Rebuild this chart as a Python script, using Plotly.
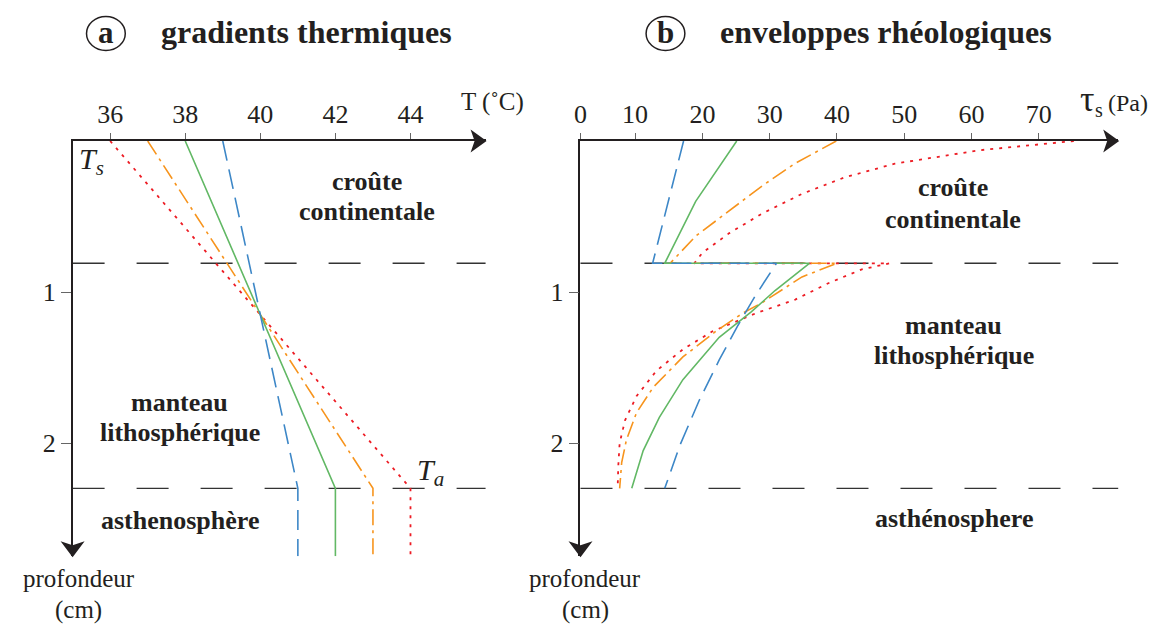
import plotly.graph_objects as go

# --- data: thermal gradients (panel a) ---
depth_T = [0, 2.3, 2.75]
T_blue = [39, 41, 41]
T_green = [38, 42, 42]
T_orange = [37, 43, 43]
T_red = [36, 44, 44]

# --- data: rheological envelopes (panel b) ---
depth_blue = [0, 0.81, 0.81, 1.03, 1.22, 1.45, 1.72, 2.01, 2.30]
tau_blue = [17.2, 12.6, 31.0, 27.8, 25.3, 22.5, 19.5, 16.7, 14.4]

depth_green = [0, 0.40, 0.81, 0.81, 0.99, 1.13, 1.30, 1.58, 1.83, 2.05, 2.30]
tau_green = [25.1, 19.0, 14.4, 35.9, 30.8, 27.3, 22.5, 17.1, 13.6, 11.2, 9.5]

depth_orange = [0, 0.15, 0.30, 0.50, 0.63, 0.81, 0.81, 0.90, 1.07, 1.14, 1.26, 1.43,
                1.63, 1.80, 1.98, 2.13, 2.30]
tau_orange = [39.9, 33.7, 28.8, 22.9, 19.0, 15.2, 40.0, 34.8, 28.9, 26.0, 22.0, 17.1,
              12.7, 10.2, 8.7, 8.0, 7.7]

depth_red = [0, 0.06, 0.15, 0.24, 0.35, 0.48, 0.61, 0.74, 0.81, 0.81, 0.85, 0.94, 1.05,
             1.14, 1.26, 1.38, 1.52, 1.69, 1.85, 2.00, 2.15, 2.30]
tau_red = [75.2, 61.4, 48.6, 41.2, 34.8, 28.9, 24.0, 20.0, 18.8, 47.8, 43.7, 38.8, 33.8,
           28.0, 21.5, 17.1, 13.2, 10.2, 8.5, 7.7, 7.5, 7.4]

layer_bounds = [0.81, 2.3]

T_ticks = [36, 38, 40, 42, 44]
tau_tickvals = [1.88, 10, 20, 30, 40, 50, 60, 70]
tau_ticktext = ['0', '10', '20', '30', '40', '50', '60', '70']
depth_ticks = [1, 2]

FONT = 'Liberation Serif, Tinos, Times New Roman, DejaVu Serif, serif'
INK = '#231f20'
W, H = 1152, 626


def px(x):
    return x / W


def py(y):
    return 1 - y / H


styles = {
    'blue': dict(color='#3d87c7', width=1.6, dash='20px,9px'),
    'green': dict(color='#62b865', width=1.6, dash='solid'),
    'orange': dict(color='#f7941d', width=1.6, dash='16px,5px,3px,5px'),
    'red': dict(color='#ed1c24', width=1.8, dash='3px,6px'),
}

fig = go.Figure()

for name, xs in [('red', T_red), ('orange', T_orange), ('green', T_green), ('blue', T_blue)]:
    fig.add_trace(go.Scatter(x=xs, y=depth_T, mode='lines', line=styles[name],
                             xaxis='x', yaxis='y', showlegend=False))

for name, xs, ys in [('red', tau_red, depth_red), ('orange', tau_orange, depth_orange),
                     ('green', tau_green, depth_green), ('blue', tau_blue, depth_blue)]:
    fig.add_trace(go.Scatter(x=xs, y=ys, mode='lines', line=styles[name],
                             xaxis='x2', yaxis='y2', showlegend=False))

# --- axes ---
y_top, y_bot = 141, 556.3
left_px = [66, 481.5]
right_px = [577, 1118]
ydom = [py(y_bot), py(y_top)]
common_x = dict(side='top', showline=True, linecolor=INK, linewidth=1.5, ticks='outside',
                ticklen=6, tickcolor='#666', showgrid=False, zeroline=False,
                tickfont=dict(family=FONT, size=26, color=INK))
common_y = dict(showline=True, linecolor=INK, linewidth=1.5, ticks='outside', ticklen=10,
                tickcolor='#666', showgrid=False, zeroline=False, range=[2.75, 0],
                tickvals=depth_ticks, tickfont=dict(family=FONT, size=26, color=INK),
                domain=ydom)

fig.update_layout(
    width=W, height=H,
    margin=dict(l=0, r=0, t=0, b=0),
    paper_bgcolor='white', plot_bgcolor='white',
    xaxis=dict(common_x, range=[35, 46], tickvals=T_ticks,
               domain=[px(left_px[0]), px(left_px[1])], anchor='y'),
    yaxis=dict(common_y, anchor='x'),
    xaxis2=dict(common_x, range=[1.88, 81.8], tickvals=tau_tickvals, ticktext=tau_ticktext,
                domain=[px(right_px[0]), px(right_px[1])], anchor='y2'),
    yaxis2=dict(common_y, anchor='x2'),
)

# --- layer boundaries and arrow heads ---
shapes = []
for xr, yr in [('x', 'y'), ('x2', 'y2')]:
    for b in layer_bounds:
        shapes.append(dict(type='line', xref=xr + ' domain', yref=yr, x0=0, x1=1, y0=b, y1=b,
                           line=dict(color='#333', width=1.4, dash='32px,32px'),
                           layer='below'))
for x0, x1 in [left_px, right_px]:
    # arrow at the end of the horizontal axis
    shapes.append(dict(type='path', xref='paper', yref='paper', xsizemode='pixel',
                       ysizemode='pixel', xanchor=px(x1), yanchor=py(y_top),
                       path='M1,0 L-15,-11.5 L-11,0 L-15,11.5 Z',
                       fillcolor=INK, line=dict(width=0)))
    # arrow at the bottom of the depth axis
    shapes.append(dict(type='path', xref='paper', yref='paper', xsizemode='pixel',
                       ysizemode='pixel', xanchor=px(x0), yanchor=py(y_bot),
                       path='M0,-1 L-12,15 L0,11 L12,15 Z',
                       fillcolor=INK, line=dict(width=0)))
# circled panel letters
for cx in [99.5, 662.5]:
    shapes.append(dict(type='circle', xref='paper', yref='paper', x0=px(cx - 19.5),
                       x1=px(cx + 19.5), y0=py(50.5), y1=py(16.5),
                       line=dict(color=INK, width=1.5)))
fig.update_layout(shapes=shapes)

# --- text ---
ann = []


def add_text(text, x, y, size, xref='paper', yref='paper', bold=False):
    ann.append(dict(text=f'<b>{text}</b>' if bold else text, x=x, y=y, xref=xref, yref=yref,
                    showarrow=False, xanchor='center', yanchor='middle',
                    font=dict(family=FONT, size=size, color=INK)))


add_text('a', px(99.5), py(32), 31, bold=True)
add_text('gradients thermiques', px(301), py(32), 32, bold=True)
add_text('b', px(662.5), py(32), 31, bold=True)
add_text('enveloppes rhéologiques', px(884), py(32), 32, bold=True)

add_text('T (˚C)', px(488), py(102), 25)
add_text('τ', px(1087), py(99), 36)
add_text('s', px(1099), py(110), 20)
add_text('(Pa)', px(1128), py(103), 24)
add_text('<i>T</i><sub><i>s</i></sub>', px(85), py(161), 30)
add_text('<i>T</i><sub><i>a</i></sub>', px(426), py(472), 30)

for x0 in [72, 582]:
    add_text('profondeur', px(x0), py(578), 25)
    add_text('(cm)', px(x0), py(610), 25)

left_labels = ['croûte', 'continentale', 'manteau', 'lithosphérique', 'asthenosphère']
left_lx = [42.84, 42.84, 37.86, 37.86, 37.86]
left_ly = [0.265, 0.47, 1.73, 1.93, 2.51]
for t, x, y in zip(left_labels, left_lx, left_ly):
    add_text(t, x, y, 26, 'x', 'y', bold=True)

right_labels = ['croûte', 'continentale', 'manteau', 'lithosphérique', 'asthénosphere']
right_lx = [57.3, 57.3, 57.3, 57.4, 57.4]
right_ly = [0.31, 0.52, 1.22, 1.42, 2.50]
for t, x, y in zip(right_labels, right_lx, right_ly):
    add_text(t, x, y, 26, 'x2', 'y2', bold=True)

fig.update_layout(annotations=ann)

fig.write_html('out.html', config={'displayModeBar': False},
               post_script="document.body.style.margin='0px';")
